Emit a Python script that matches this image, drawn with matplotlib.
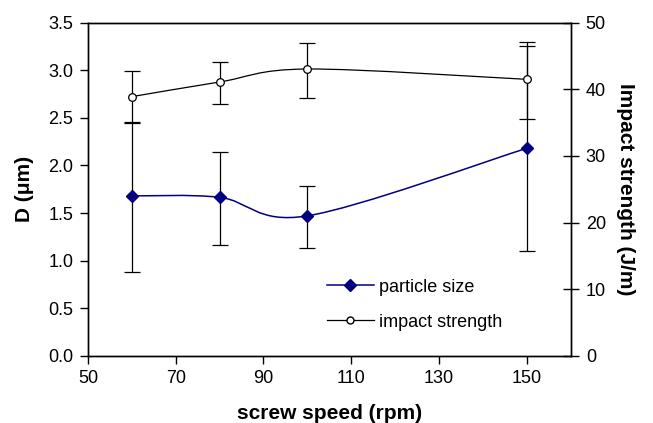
import numpy as np
import matplotlib
matplotlib.use("Agg")
from matplotlib import pyplot as plt
from matplotlib.path import Path
from matplotlib.patches import PathPatch
from matplotlib.lines import Line2D

plt.rcParams["font.family"] = ["Liberation Sans", "DejaVu Sans"]

# data
speed = [60, 80, 100, 150]

d_mean = [1.68, 1.665, 1.47, 2.18]
d_low = [0.877, 1.167, 1.132, 1.10]
d_high = [2.45, 2.144, 1.787, 3.258]

imp_mean = [38.9, 41.1, 43.05, 41.5]
imp_low = [35.05, 37.8, 38.7, 35.6]
imp_high = [42.7, 44.15, 46.9, 47.06]

navy = "#000080"


def smooth_path(x, y):
    """Excel-like smoothed line as cubic bezier segments (Catmull-Rom)."""
    pts = np.column_stack([x, y]).astype(float)
    ext = np.vstack([pts[0], pts, pts[-1]])
    verts = [pts[0]]
    codes = [Path.MOVETO]
    for i in range(1, len(ext) - 2):
        p0, p1, p2, p3 = ext[i - 1], ext[i], ext[i + 1], ext[i + 2]
        verts += [p1 + (p2 - p0) / 6, p2 - (p3 - p1) / 6, p2]
        codes += [Path.CURVE4] * 3
    return Path(verts, codes)


fig = plt.figure(figsize=(6.53, 4.23), dpi=100)
ax = fig.add_axes([0.1348, 0.159, 0.7389, 0.7873])
ax2 = ax.twinx()

# particle size
d_err = [np.subtract(d_mean, d_low), np.subtract(d_high, d_mean)]
ax.errorbar(speed, d_mean, yerr=d_err, fmt="none", ecolor="black",
            elinewidth=0.9, capsize=5.5, capthick=0.9, zorder=2)
ax.add_patch(PathPatch(smooth_path(speed, d_mean), fill=False,
                       edgecolor=navy, lw=1.1, zorder=3))
ax.plot(speed, d_mean, ls="none", marker="D", ms=6.5, color=navy, zorder=4)

# impact strength
imp_err = [np.subtract(imp_mean, imp_low), np.subtract(imp_high, imp_mean)]
ax2.errorbar(speed, imp_mean, yerr=imp_err, fmt="none", ecolor="black",
             elinewidth=0.9, capsize=5.5, capthick=0.9, zorder=2)
ax2.add_patch(PathPatch(smooth_path(speed, imp_mean), fill=False,
                        edgecolor="black", lw=0.9, zorder=3))
ax2.plot(speed, imp_mean, ls="none", marker="o", ms=5.5, mfc="white",
         mec="black", mew=0.9, zorder=4)

ax.set_xlim(50, 160)
ax.set_ylim(0, 3.5)
ax2.set_ylim(0, 50)
ax.set_xticks([50, 70, 90, 110, 130, 150])
ax.set_yticks(np.arange(0, 3.51, 0.5))
ax.set_yticklabels([f"{v:.1f}" for v in np.arange(0, 3.51, 0.5)])
ax2.set_yticks([0, 10, 20, 30, 40, 50])

for a in (ax, ax2):
    for s in a.spines.values():
        s.set_linewidth(1.0)
ax.tick_params(axis="both", direction="out", length=5.5, width=1.0,
               labelsize=13, pad=5)
ax2.tick_params(axis="y", direction="inout", length=12, width=1.0,
                labelsize=13, pad=5)

ax.set_xlabel("screw speed (rpm)", fontsize=15, fontweight="bold", labelpad=12)
ax.set_ylabel("D (\u03bcm)", fontsize=15, fontweight="bold", labelpad=10)
ax2.set_ylabel("Impact strength (J/m)", fontsize=15, fontweight="bold",
               rotation=270, labelpad=21)

handles = [
    Line2D([], [], color=navy, lw=1.1, marker="D", ms=6.5),
    Line2D([], [], color="black", lw=0.9, marker="o", ms=5, mfc="white",
           mec="black"),
]
ax2.legend(handles, ["particle size", "impact strength"], loc="center left",
           bbox_to_anchor=(0.5003, 0.280), bbox_transform=fig.transFigure,
           frameon=False, fontsize=13, handlelength=2.6,
           handletextpad=0.3, labelspacing=1.0, borderpad=0,
           borderaxespad=0, numpoints=1)

fig.savefig("out.png", dpi=100)
